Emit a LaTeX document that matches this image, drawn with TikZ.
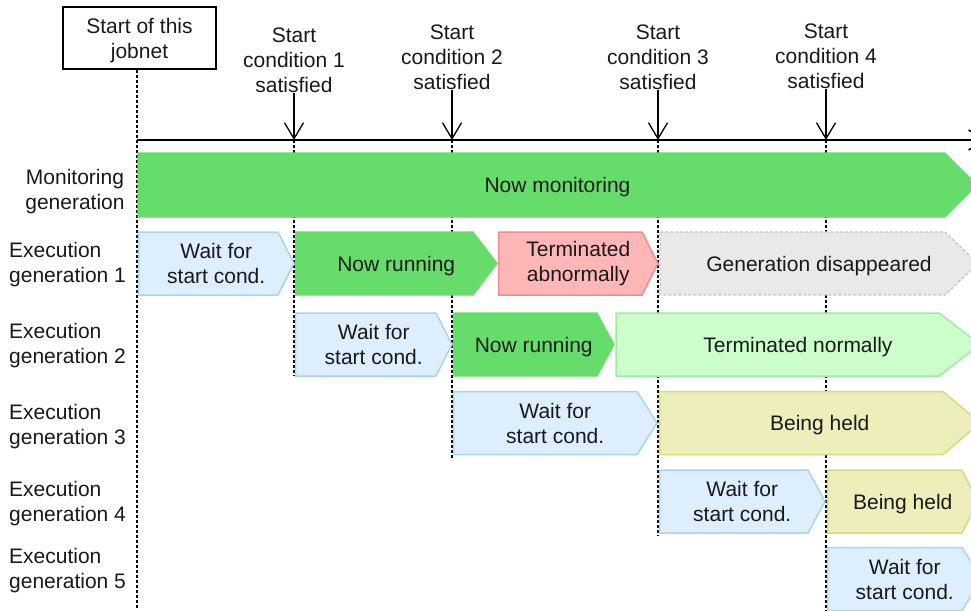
\documentclass[tikz,border=0pt]{standalone}
\usepackage{fontspec}
\setmainfont{Liberation Sans}
\usetikzlibrary{arrows.meta}
\definecolor{grn}{HTML}{66DD6A}
\definecolor{bluefill}{HTML}{DDEEFF}
\definecolor{blueline}{HTML}{A8D2F6}
\definecolor{pinkfill}{HTML}{FFB6B6}
\definecolor{pinkline}{HTML}{F08C8C}
\definecolor{grayfill}{HTML}{E9E9E9}
\definecolor{grayline}{HTML}{C4C4C4}
\definecolor{lgfill}{HTML}{CCFFCC}
\definecolor{lgline}{HTML}{9AEE9A}
\definecolor{yelfill}{HTML}{EEEEBB}
\definecolor{yelline}{HTML}{D9D97A}
% name, style, x1, tip x, tip depth, y centre, half height, node options, text
\newcommand\genbar[9]{%
  \path[#2] (#3,{#6-#7}) -- ({#4-#5},{#6-#7}) -- (#4,#6) -- ({#4-#5},{#6+#7}) -- (#3,{#6+#7}) -- cycle;
  \node[lbl,#8] (#1) at ({(#3+#4)/2},#6) {#9};}
\begin{document}
\begin{tikzpicture}[x=1pt,y=-1pt,
  font=\fontsize{21}{25}\selectfont,
  lbl/.style={align=center, inner sep=0pt, text=black!90},
  oneline/.style={text depth=0pt},
  twoline/.style={},
  vline/.style={line width=1.4pt, dash pattern=on 3pt off 2pt},
  tarrow/.style={line width=1.3pt, -{Straight Barb[length=16pt,width=19pt,line width=1.3pt]}},
  runbar/.style={fill=grn, draw=grn, line width=1.3pt},
  waitbar/.style={fill=bluefill, draw=blueline, line width=1.5pt},
  abnbar/.style={fill=pinkfill, draw=pinkline, line width=1.5pt},
  gonebar/.style={fill=grayfill, draw=grayline, line width=1.3pt, dash pattern=on 3pt off 2pt},
  normbar/.style={fill=lgfill, draw=lgline, line width=1.5pt},
  heldbar/.style={fill=yelfill, draw=yelline, line width=1.5pt},
  rowlbl/.style={anchor=west, align=left, inner sep=0pt, text=black!90}]
\useasboundingbox (0,0) rectangle (971,610);
\clip (0,0) rectangle (971,610);

% start of jobnet box
\node[draw, line width=1.5pt, minimum width=153pt, minimum height=62pt, inner sep=0pt]
  (jobnet) at (139.5,38) {};
\node[lbl] (jobnettxt) at (139.5,40.5) {Start of this\\jobnet};

% axis
\coordinate (a0) at (137,140);
\coordinate (aend) at (986,140);
\draw[line width=1.8pt, -{Straight Barb[length=16pt,width=20pt,line width=1.5pt]}] (a0) -- (aend);

% start condition labels and arrows
\node[lbl] (c1) at (294,60) {Start\\condition 1\\satisfied};
\node[lbl] (c2) at (452,57) {Start\\condition 2\\satisfied};
\node[lbl] (c3) at (658,57) {Start\\condition 3\\satisfied};
\node[lbl] (c4) at (826,56) {Start\\condition 4\\satisfied};
\coordinate (t1) at (294,140);
\coordinate (t2) at (452,140);
\coordinate (t3) at (658,140);
\coordinate (t4) at (826,140);
\draw[tarrow] (c1.south) -- (t1);
\draw[tarrow] (c2.south) -- (t2);
\draw[tarrow] (c3.south) -- (t3);
\draw[tarrow] (c4.south) -- (t4);

% dashed time lines
\coordinate (b0) at (137,608);
\coordinate (b1) at (294,376);
\coordinate (b2) at (452,460);
\coordinate (b3) at (658,536);
\coordinate (b4) at (826,612);
\draw[vline] (jobnet.south -| a0) -- (b0);
\draw[vline] (t1) -- (b1);
\draw[vline] (t2) -- (b2);
\draw[vline] (t3) -- (b3);
\draw[vline] (t4) -- (b4);

% row labels
\node[align=center, inner sep=0pt, text=black!90] (lmon) at (75,191.5) {Monitoring\\generation};
\node[rowlbl] (lg1) at (9,265) {Execution\\generation 1};
\node[rowlbl] (lg2) at (9,346) {Execution\\generation 2};
\node[rowlbl] (lg3) at (9,427) {Execution\\generation 3};
\node[rowlbl] (lg4) at (9,504) {Execution\\generation 4};
\node[rowlbl] (lg5) at (9,571) {Execution\\generation 5};

% monitoring generation
\genbar{mon}{runbar}{138}{977}{32}{185}{32}{oneline}{Now monitoring}

% execution generation 1
\genbar{w1}{waitbar}{138.5}{294}{16}{263.5}{31.5}{twoline}{Wait for\\start cond.}
\genbar{r1}{runbar}{295.5}{497}{24}{263.5}{31.5}{oneline}{Now running}
\genbar{x1}{abnbar}{498.5}{658}{16}{263.5}{31.5}{twoline}{Terminated\\abnormally}
\genbar{g1}{gonebar}{660}{978}{33}{263.5}{31.5}{oneline}{Generation disappeared}

% execution generation 2
\genbar{w2}{waitbar}{295.5}{452}{16}{344.5}{31.5}{twoline}{Wait for\\start cond.}
\genbar{r2}{runbar}{453.5}{614}{17}{344.5}{31.5}{oneline}{Now running}
\genbar{n2}{normbar}{616}{980}{41}{344.5}{31.5}{oneline}{Terminated normally}

% execution generation 3
\genbar{w3}{waitbar}{453.5}{657}{20}{423}{31.5}{twoline}{Wait for\\start cond.}
\genbar{h3}{heldbar}{659.5}{980}{37}{423}{31.5}{oneline}{Being held}

% execution generation 4
\genbar{w4}{waitbar}{659.5}{825}{17}{501.5}{31.5}{twoline}{Wait for\\start cond.}
\genbar{h4}{heldbar}{827.5}{978}{16}{501.5}{31.5}{oneline}{Being held}

% execution generation 5
\genbar{w5}{waitbar}{827.5}{982}{20}{579}{31.5}{twoline}{Wait for\\start cond.}
\end{tikzpicture}
\end{document}
